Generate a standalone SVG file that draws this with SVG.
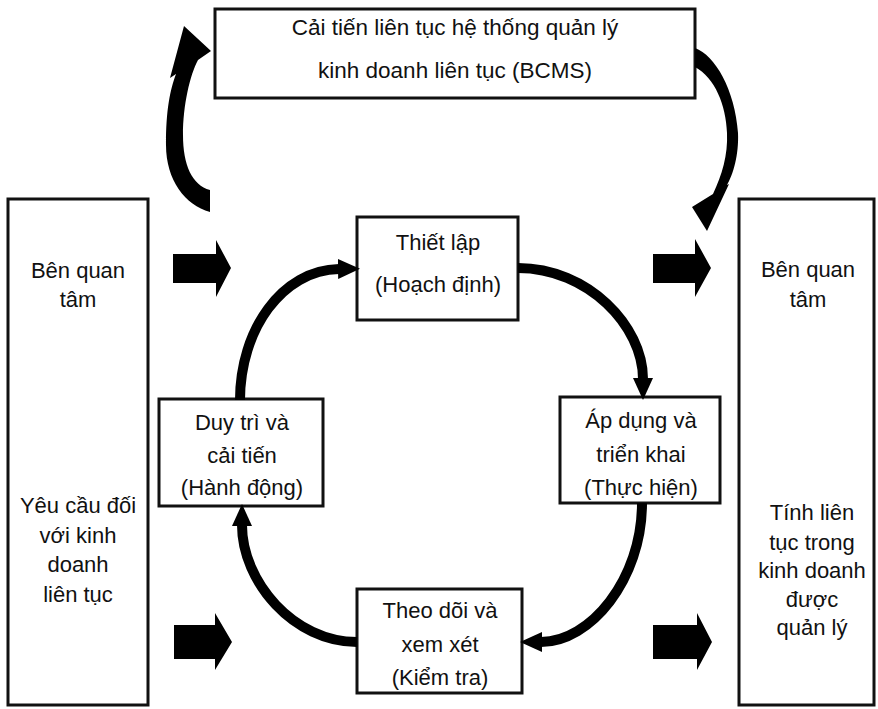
<svg xmlns="http://www.w3.org/2000/svg" width="878" height="709" viewBox="0 0 878 709">
<style>
  .box { fill: #ffffff; stroke: #111111; stroke-width: 3; }
  .t { font-family: "Liberation Sans", Arial, sans-serif; font-size: 22px; fill: #111111; text-anchor: middle; }
  .cyc { fill: none; stroke: #000000; stroke-width: 10; stroke-linecap: butt; }
  .solid { fill: #000000; stroke: none; }
</style>
<defs>
  <marker id="head" markerUnits="userSpaceOnUse" markerWidth="22" markerHeight="20" viewBox="0 0 22 20" refX="1" refY="10" orient="auto">
    <path d="M0,0 L22,10 L0,20 Z" fill="#000000"/>
  </marker>
</defs>
<rect width="878" height="709" fill="#ffffff"/>

<g id="node-bcms">
  <rect class="box" x="215" y="9" width="480" height="89"/>
  <text class="t" x="455" y="35" style="font-size:22.5px">Cải tiến liên tục hệ thống quản lý</text>
  <text class="t" x="455" y="78" style="font-size:22.5px">kinh doanh liên tục (BCMS)</text>
</g>

<g id="node-left">
  <rect class="box" x="8" y="199" width="140" height="506"/>
  <text class="t" x="78" y="278">Bên quan</text>
  <text class="t" x="78" y="307">tâm</text>
  <text class="t" x="78" y="513">Yêu cầu đối</text>
  <text class="t" x="78" y="543">với kinh</text>
  <text class="t" x="78" y="572">doanh</text>
  <text class="t" x="78" y="602">liên tục</text>
</g>

<g id="node-right">
  <rect class="box" x="739" y="199" width="135" height="506"/>
  <text class="t" x="808" y="277">Bên quan</text>
  <text class="t" x="808" y="307">tâm</text>
  <text class="t" x="812" y="520">Tính liên</text>
  <text class="t" x="812" y="550">tục trong</text>
  <text class="t" x="812" y="578">kinh doanh</text>
  <text class="t" x="812" y="607">được</text>
  <text class="t" x="812" y="635">quản lý</text>
</g>

<g id="node-plan">
  <rect class="box" x="357" y="217" width="161" height="103"/>
  <text class="t" x="438" y="250">Thiết lập</text>
  <text class="t" x="438" y="292">(Hoạch định)</text>
</g>

<g id="node-do">
  <rect class="box" x="560" y="397" width="160" height="106"/>
  <text class="t" x="641" y="428">Áp dụng và</text>
  <text class="t" x="641" y="462">triển khai</text>
  <text class="t" x="641" y="495">(Thực hiện)</text>
</g>

<g id="node-check">
  <rect class="box" x="357" y="589" width="165" height="104"/>
  <text class="t" x="440" y="618">Theo dõi và</text>
  <text class="t" x="440" y="652">xem xét</text>
  <text class="t" x="440" y="685">(Kiểm tra)</text>
</g>

<g id="node-act">
  <rect class="box" x="159" y="399" width="164" height="107"/>
  <text class="t" x="242" y="430">Duy trì và</text>
  <text class="t" x="242" y="463">cải tiến</text>
  <text class="t" x="242" y="495">(Hành động)</text>
</g>

<g id="connectors">
  <!-- PDCA cycle -->
  <path class="cyc" d="M240,400 C240,330 282,270 339,269" marker-end="url(#head)"/>
  <path class="cyc" d="M518,268 C588,268 643,326 643,379" marker-end="url(#head)"/>
  <path class="cyc" d="M642,503 C642,580 590,642 541,642" marker-end="url(#head)"/>
  <path class="cyc" d="M357,642 C294,642 242,582 242,525" marker-end="url(#head)"/>

  <!-- curved crescent arrows around BCMS box -->
  <path class="solid" d="M210,212 C185,205 166,180 166,145 C166,110 170,90 176,74 L170,78 L184,26 L211,51 L198,60 C190,75 183,105 183,135 C183,165 192,185 210,190 Z"/>
  <path class="solid" d="M695,48 C715,55 735,90 738,133 C739,155 733,175 727,185 L729,184 L707,231 L692,207 L713,194 C722,175 728,155 727,133 C726,105 715,78 695,67 Z"/>

  <!-- block arrows -->
  <polygon class="solid" points="173,254 216,254 216,240 231,268 216,297 216,283 173,283"/>
  <polygon class="solid" points="174,625 215,625 215,613 232,642 215,670 215,659 174,659"/>
  <polygon class="solid" points="653,254 695,254 695,239 711,268 695,297 695,283 653,283"/>
  <polygon class="solid" points="653,625 697,625 697,613 712,642 697,670 697,659 653,659"/>
</g>
</svg>
